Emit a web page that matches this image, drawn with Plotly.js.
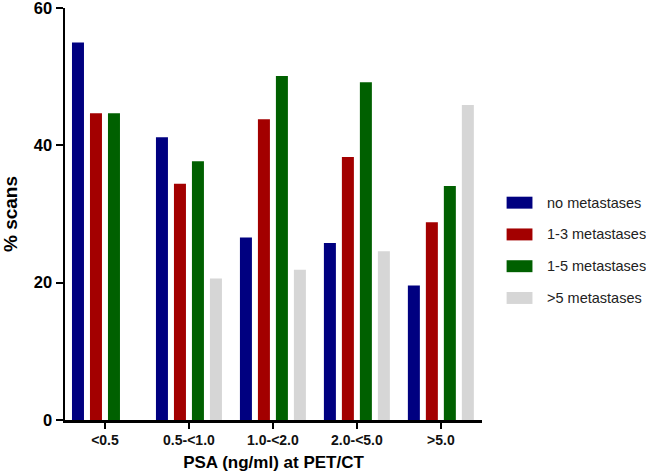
<!DOCTYPE html>
<html>
<head>
<meta charset="utf-8">
<script src="https://cdn.plot.ly/plotly-3.0.1.min.js"></script>
<style>html,body{margin:0;padding:0;background:#fff;}#chart{width:646px;height:475px;}</style>
</head>
<body>
<div id="chart"></div>
<script>
const categories = ["<0.5", "0.5-<1.0", "1.0-<2.0", "2.0-<5.0", ">5.0"];
const seriesNames = ["no metastases", "1-3 metastases", "1-5 metastases", ">5 metastases"];
const noMet = [55.0, 41.2, 26.6, 25.8, 19.6];
const met1to3 = [44.7, 34.4, 43.8, 38.3, 28.8];
const met1to5 = [44.7, 37.7, 50.1, 49.2, 34.1];
const metOver5 = [null, 20.6, 21.9, 24.6, 45.9];
const colors = ["#000080", "#A30000", "#006000", "#D6D6D6"];
const yTicks = [0, 20, 40, 60];

const seriesValues = [noMet, met1to3, met1to5, metOver5];
const FONT = "Liberation Sans, Arial, Helvetica, sans-serif";

const traces = seriesValues.map((vals, i) => ({
  type: "bar",
  x: categories,
  y: vals,
  name: seriesNames[i],
  marker: {color: colors[i]},
  showlegend: false,
  hoverinfo: "x+y+name"
}));

// custom legend (wide swatches like the original)
const shapes = [];
const annotations = [];
const legX0 = 1.059, legX1 = 1.121, legTop = 0.5275, legStep = 0.0771;
seriesNames.forEach((n, i) => {
  const yc = legTop - i * legStep;
  shapes.push({type: "rect", xref: "paper", yref: "paper",
    x0: legX0, x1: legX1, y0: yc - 0.0145, y1: yc + 0.0145,
    fillcolor: colors[i], line: {width: 0}});
  annotations.push({xref: "paper", yref: "paper", x: 1.152, y: yc,
    xanchor: "left", yanchor: "middle", showarrow: false, text: n,
    font: {family: FONT, size: 14.5, color: "#222"}});
});

const layout = {
  width: 646, height: 475,
  margin: {l: 65, r: 164, t: 8, b: 55},
  paper_bgcolor: "#fff", plot_bgcolor: "#fff",
  barmode: "group",
  bargap: 0.143,
  bargroupgap: 0.333,
  showlegend: false,
  xaxis: {
    type: "category",
    range: [-0.476, 4.49],
    showline: true, linecolor: "#000", linewidth: 2.5,
    ticks: "outside", ticklen: 6, tickwidth: 2, tickcolor: "#000",
    showgrid: false, zeroline: false,
    tickfont: {family: FONT, size: 14, color: "#111", weight: "bold"},
    title: {text: "<b>PSA (ng/ml) at PET/CT</b>", font: {family: FONT, size: 17, color: "#000"}, standoff: 9}
  },
  yaxis: {
    range: [0, 60.02],
    tickvals: yTicks,
    ticktext: yTicks.map(String),
    ticklabeloverflow: "allow",
    showline: true, linecolor: "#000", linewidth: 2.5,
    ticks: "outside", ticklen: 7, tickwidth: 2, tickcolor: "#000",
    showgrid: false, zeroline: false,
    tickfont: {family: FONT, size: 16.5, color: "#000", weight: "bold"},
    title: {text: "<b>% scans</b>", font: {family: FONT, size: 19, color: "#000"}, standoff: 13}
  },
  shapes: shapes,
  annotations: annotations,
  font: {family: FONT}
};

Plotly.newPlot("chart", traces, layout, {displayModeBar: false, staticPlot: true});
</script>
</body>
</html>
